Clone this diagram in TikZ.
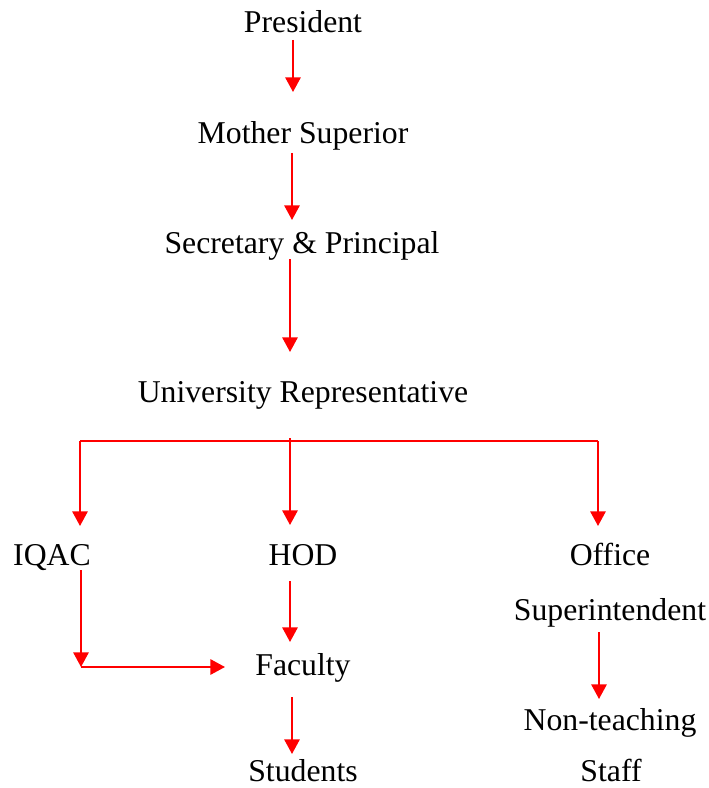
\documentclass[tikz,border=0pt]{standalone}
\usepackage{fontspec}
\setmainfont{Liberation Serif}
\usetikzlibrary{arrows.meta}
\tikzset{
  lbl/.style={anchor=base, inner sep=0pt, font=\fontsize{23.8pt}{28pt}\selectfont},
  arr/.style={draw=red, line width=1.5pt, -{Triangle[length=11pt,width=11.5pt]}},
  ln/.style={draw=red, line width=1.5pt}
}
\begin{document}
\begin{tikzpicture}[x=0.75pt,y=-0.75pt]
\useasboundingbox (0,0) rectangle (708,788);
\node[lbl] (pres) at (303,33) {President};
\node[lbl] (moth) at (303,143) {Mother Superior};
\node[lbl] (sec) at (302,253) {Secretary \& Principal};
\node[lbl] (univ) at (303,402) {University Representative};
\node[lbl] (iqac) at (52,565) {IQAC};
\node[lbl] (hod) at (303,565) {HOD};
\node[lbl] (off) at (610,565) {Office};
\node[lbl] (sup) at (610,620) {Superintendent};
\node[lbl] (fac) at (303,675) {Faculty};
\node[lbl] (nont) at (610,730) {Non-teaching};
\node[lbl] (stud) at (303,781) {Students};
\node[lbl] (staff) at (611,781) {Staff};
% connector endpoints
\coordinate (p1) at (293,40);  \coordinate (m1) at (293,92);
\coordinate (m2) at (292,153); \coordinate (s1) at (292,220);
\coordinate (s2) at (290,259); \coordinate (u1) at (290,352);
\coordinate (bl) at (80,441);  \coordinate (bc) at (290,438); \coordinate (br) at (598,441);
\coordinate (i1) at (80,526);  \coordinate (h1) at (290,525); \coordinate (o1) at (598,526);
\coordinate (h2) at (290,581); \coordinate (f1) at (290,642);
\coordinate (i2) at (81,570);  \coordinate (ic) at (81,667); \coordinate (f2) at (225,667);
\coordinate (f3) at (292,697); \coordinate (st1) at (292,754);
\coordinate (su2) at (599,632); \coordinate (n1) at (599,699);
\draw[arr] (p1) -- (m1);
\draw[arr] (m2) -- (s1);
\draw[arr] (s2) -- (u1);
\draw[ln] (bl) -- (br);
\draw[arr] (bl) -- (i1);
\draw[arr] (bc) -- (h1);
\draw[arr] (br) -- (o1);
\draw[arr] (h2) -- (f1);
\draw[arr] (i2) -- (ic);
\draw[arr] (ic) -- (f2);
\draw[arr] (f3) -- (st1);
\draw[arr] (su2) -- (n1);
\end{tikzpicture}
\end{document}
